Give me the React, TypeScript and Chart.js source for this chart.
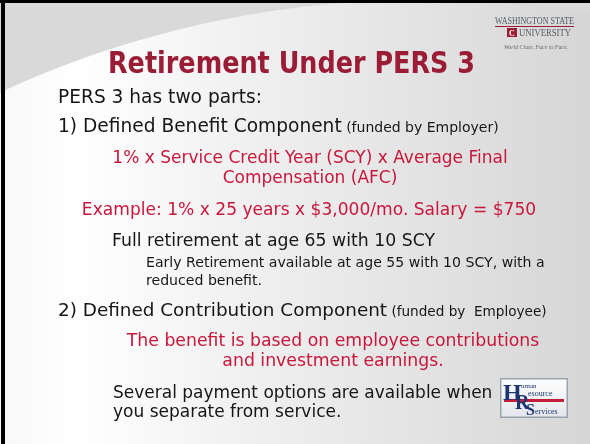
import React, { useEffect, useRef } from "react";
import { Chart, registerables } from "chart.js";

Chart.register(...registerables);

// ---- slide content ----
const titleText = "Retirement Under PERS 3";
const introLine = "PERS 3 has two parts:";
const part1Heading = ["1) Defined Benefit Component", " (funded by Employer)"];
const formulaLines = ["1% x Service Credit Year (SCY) x Average Final", "Compensation (AFC)"];
const exampleLine = "Example: 1% x 25 years x $3,000/mo. Salary = $750";
const fullRetirementLine = "Full retirement at age 65 with 10 SCY";
const earlyRetirementLines = ["Early Retirement available at age 55 with 10 SCY, with a", "reduced benefit."];
const part2Heading = ["2) Defined Contribution Component", " (funded by  Employee)"];
const benefitLines = ["The benefit is based on employee contributions", "and investment earnings."];
const paymentLines = ["Several payment options are available when", "you separate from service."];
const wsuLogoText = ["WASHINGTON STATE", "UNIVERSITY", "World Class. Face to Face."];
const hrLogoText = ["H", "uman", "R", "esource", "S", "ervices"];

const W = 590;
const H = 444;
const SANS = "'DejaVu Sans', 'Liberation Sans', sans-serif";
const SERIF = "'Liberation Serif', 'DejaVu Serif', serif";
const BLACK = "#161616";
const RED = "#c9173c";
const CRIMSON = "#9b1c35";
const NAVY = "#1d3570";

type Seg = { text: string; size: number; color: string; weight?: string; family?: string; italic?: boolean };

function fontOf(s: Seg) {
  return `${s.italic ? "italic " : ""}${s.weight || "normal"} ${s.size}px ${s.family || SANS}`;
}

function drawSegs(ctx: CanvasRenderingContext2D, segs: Seg[], x: number, y: number, align: "left" | "center") {
  let total = 0;
  for (const s of segs) {
    ctx.font = fontOf(s);
    total += ctx.measureText(s.text).width;
  }
  let cx = align === "center" ? x - total / 2 : x;
  ctx.textAlign = "left";
  ctx.textBaseline = "alphabetic";
  for (const s of segs) {
    ctx.font = fontOf(s);
    ctx.fillStyle = s.color;
    ctx.fillText(s.text, cx, y);
    cx += ctx.measureText(s.text).width;
  }
}

function drawFitted(ctx: CanvasRenderingContext2D, seg: Seg, x: number, y: number, width: number) {
  ctx.font = fontOf(seg);
  const w = ctx.measureText(seg.text).width;
  ctx.save();
  ctx.translate(x, y);
  ctx.scale(width / w, 1);
  ctx.fillStyle = seg.color;
  ctx.textAlign = "left";
  ctx.textBaseline = "alphabetic";
  ctx.fillText(seg.text, 0, 0);
  ctx.restore();
}

const slidePlugin = {
  id: "slide",
  beforeDraw(chart: any) {
    const ctx: CanvasRenderingContext2D = chart.ctx;
    ctx.save();
    // background
    ctx.fillStyle = "#d9d9d9";
    ctx.fillRect(0, 0, W, H);
    ctx.save();
    ctx.beginPath();
    ctx.arc(420, 1000, 1000, 0, Math.PI * 2);
    ctx.clip();
    const g = ctx.createLinearGradient(0, 0, W, 0);
    g.addColorStop(0, "#f8f8f8");
    g.addColorStop(0.13, "#ffffff");
    g.addColorStop(0.4, "#f1f1f1");
    g.addColorStop(1, "#d6d6d6");
    ctx.fillStyle = g;
    ctx.fillRect(0, 0, W, H);
    ctx.restore();
    // frame
    ctx.fillStyle = "#000";
    ctx.fillRect(0, 0, W, 3);
    ctx.fillRect(1, 0, 4, H);

    // title
    drawFitted(ctx, { text: titleText, size: 31, color: CRIMSON, weight: "bold" }, 108, 73, 367);

    // body
    drawSegs(ctx, [{ text: introLine, size: 18.6, color: BLACK }], 58, 103, "left");
    drawSegs(
      ctx,
      [
        { text: part1Heading[0], size: 18.6, color: BLACK },
        { text: part1Heading[1], size: 14, color: BLACK },
      ],
      58,
      132,
      "left"
    );
    drawSegs(ctx, [{ text: formulaLines[0], size: 17, color: RED }], 310, 163, "center");
    drawSegs(ctx, [{ text: formulaLines[1], size: 17, color: RED }], 310, 183, "center");
    drawSegs(ctx, [{ text: exampleLine, size: 17.1, color: RED }], 309, 215, "center");
    drawSegs(ctx, [{ text: fullRetirementLine, size: 17.3, color: BLACK }], 112, 246, "left");
    drawSegs(ctx, [{ text: earlyRetirementLines[0], size: 14.1, color: BLACK }], 146, 267, "left");
    drawSegs(ctx, [{ text: earlyRetirementLines[1], size: 14.1, color: BLACK }], 146, 285, "left");
    drawSegs(
      ctx,
      [
        { text: part2Heading[0], size: 18.4, color: BLACK },
        { text: part2Heading[1], size: 13.6, color: BLACK },
      ],
      58,
      316,
      "left"
    );
    drawSegs(ctx, [{ text: benefitLines[0], size: 17.3, color: RED }], 333, 346, "center");
    drawSegs(ctx, [{ text: benefitLines[1], size: 17.3, color: RED }], 333, 366, "center");
    drawSegs(ctx, [{ text: paymentLines[0], size: 17, color: BLACK }], 113, 398, "left");
    drawSegs(ctx, [{ text: paymentLines[1], size: 17, color: BLACK }], 113, 417, "left");

    // WSU logo
    const grey = "#565c63";
    drawFitted(ctx, { text: wsuLogoText[0], size: 10, color: grey, family: SERIF }, 495, 24, 79);
    ctx.fillStyle = CRIMSON;
    ctx.fillRect(495, 26, 79, 1);
    ctx.fillRect(507, 28, 10, 9);
    ctx.fillStyle = "#fff";
    ctx.font = `bold 8px ${SERIF}`;
    ctx.textAlign = "center";
    ctx.fillText("C", 512, 35.5);
    drawFitted(ctx, { text: wsuLogoText[1], size: 9.5, color: grey, family: SERIF }, 519, 36, 52);
    drawFitted(ctx, { text: wsuLogoText[2], size: 6, color: "#6a6a6a", family: SERIF, italic: true }, 504, 49, 64);

    // HR logo
    const bx = 500, by = 378, bw = 68, bh = 40;
    const hg = ctx.createLinearGradient(bx, by, bx, by + bh);
    hg.addColorStop(0, "#ffffff");
    hg.addColorStop(1, "#e2e5ea");
    ctx.fillStyle = hg;
    ctx.fillRect(bx, by, bw, bh);
    ctx.strokeStyle = "#9aa3ad";
    ctx.lineWidth = 1.5;
    ctx.strokeRect(bx + 0.75, by + 0.75, bw - 1.5, bh - 1.5);
    ctx.fillStyle = "#c41e3a";
    ctx.fillRect(bx + 4, by + 21, bw - 8, 3);
    ctx.textAlign = "left";
    ctx.fillStyle = NAVY;
    ctx.font = `bold 24px ${SERIF}`;
    ctx.fillText(hrLogoText[0], bx + 3, by + 22);
    ctx.font = `7px ${SERIF}`;
    ctx.fillText(hrLogoText[1], bx + 21, by + 10);
    ctx.font = `bold 20px ${SERIF}`;
    ctx.fillText(hrLogoText[2], bx + 15, by + 31);
    ctx.font = `8px ${SERIF}`;
    ctx.fillText(hrLogoText[3], bx + 28, by + 18);
    ctx.font = `bold 16px ${SERIF}`;
    ctx.fillText(hrLogoText[4], bx + 26, by + 37);
    ctx.font = `8px ${SERIF}`;
    ctx.fillText(hrLogoText[5], bx + 35, by + 36);
    ctx.restore();
  },
};

export default function App() {
  const ref = useRef<HTMLCanvasElement | null>(null);
  useEffect(() => {
    if (!ref.current) return;
    const chart = new Chart(ref.current, {
      type: "line",
      data: { labels: [], datasets: [] },
      options: {
        responsive: false,
        animation: false,
        events: [],
        layout: { padding: 0 },
        plugins: { legend: { display: false }, tooltip: { enabled: false }, title: { display: false } },
        scales: { x: { display: false }, y: { display: false } },
      },
      plugins: [slidePlugin],
    });
    return () => chart.destroy();
  }, []);
  return (
    <div style={{ position: "fixed", left: 0, top: 0, width: W, height: H }}>
      <canvas ref={ref} width={W} height={H} style={{ display: "block", width: W, height: H }} />
    </div>
  );
}
